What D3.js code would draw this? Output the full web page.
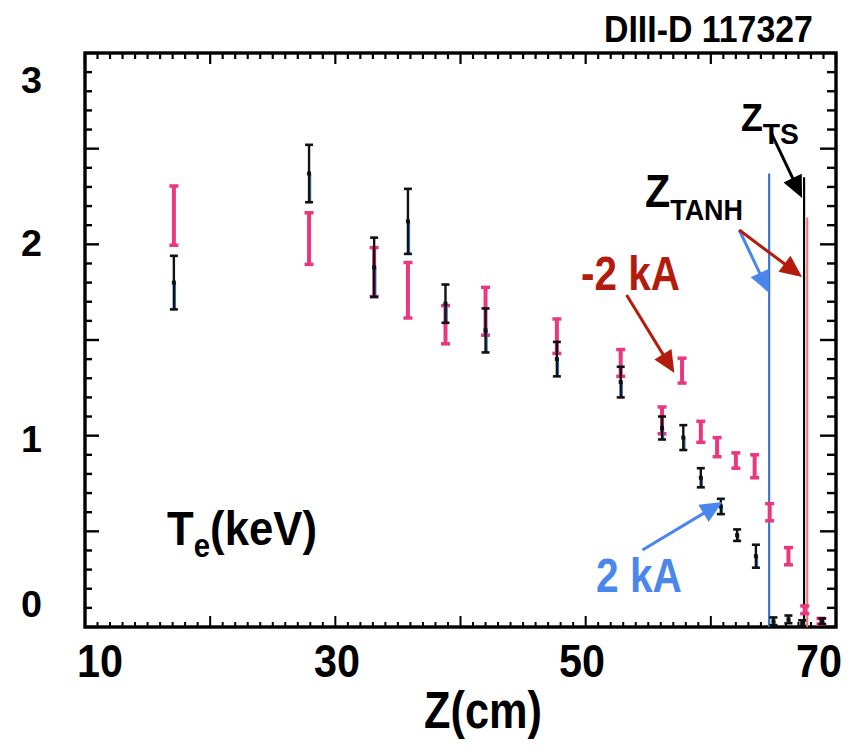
<!DOCTYPE html>
<html>
<head>
<meta charset="utf-8">
<script src="https://cdn.jsdelivr.net/npm/d3@7/dist/d3.min.js"></script>
<style>
  html, body { margin: 0; padding: 0; background: #fff; }
  svg { display: block; }
  text { font-family: "Liberation Sans", Arial, sans-serif; font-weight: bold; }
</style>
</head>
<body>
<svg id="chart" width="861" height="751"></svg>
<script>
// Thomson scattering Te profiles, DIII-D shot 117327
// +2 kA coil current (black points)
const posZ   = [17.1, 27.9, 33.1, 35.8, 38.8, 42.0, 47.7, 52.8, 56.1, 57.8, 59.2, 60.8, 62.1, 63.6, 65.0, 66.2, 67.3, 68.9];
const posTe  = [1.80, 2.37, 1.88, 2.12, 1.69, 1.55, 1.40, 1.28, 1.04, 0.99, 0.78, 0.63, 0.48, 0.37, 0.03, 0.04, 0.02, 0.03];
const posErr = [0.14, 0.15, 0.155, 0.17, 0.10, 0.115, 0.09, 0.08, 0.06, 0.065, 0.05, 0.04, 0.03, 0.06, 0.02, 0.02, 0.015, 0.015];

// -2 kA coil current (pink points)
const negZ   = [17.1, 27.9, 33.1, 35.8, 38.8, 42.0, 47.7, 52.8, 56.1, 57.7, 59.2, 60.5, 62.0, 63.5, 64.7, 66.2, 67.5, 68.8];
const negTe  = [2.15, 2.03, 1.855, 1.76, 1.58, 1.65, 1.52, 1.38, 1.08, 1.34, 1.02, 0.94, 0.87, 0.84, 0.60, 0.37, 0.09, 0.03];
const negErr = [0.155, 0.135, 0.128, 0.145, 0.10, 0.125, 0.09, 0.07, 0.07, 0.065, 0.055, 0.05, 0.04, 0.06, 0.045, 0.045, 0.02, 0.015];

// separatrix / pedestal positions (cm) and the Te level where each marker line ends
const zTanh2kA = 64.66, zTanh2kATop = 2.37;
const zTs = 67.45, zTsTop = 2.35;
const zTanhNeg = 67.7, zTanhNegTop = 2.14;

const xTickLabels = [10, 30, 50, 70];
const yTickLabels = [0, 1, 2, 3];

const plotLeft = 85, plotRight = 836, plotTop = 53, plotBottom = 627;

const x = d3.scaleLinear().domain([10, 70]).range([plotLeft, plotRight]);
const y = d3.scaleLinear().domain([0, 3]).range([plotBottom, plotTop]);

const svg = d3.select("#chart");

const pink = "#e9387f";
const darkRed = "#b31c0c";
const lightBlue = "#4a86ec";

// ---- frame with inward ticks on all four sides ----
const frame = svg.append("g");
const xMinor = d3.range(10, 71, 1);
const yMinor = d3.range(0, 3.001, 0.1).map(v => +v.toFixed(2));
const isMajorX = v => v % 10 === 0;
const isMajorY = v => Math.abs(v * 2 - Math.round(v * 2)) < 1e-6;

frame.selectAll(".tb").data(xMinor).join("line")
  .attr("x1", d => x(d)).attr("x2", d => x(d))
  .attr("y1", plotBottom).attr("y2", d => plotBottom - (isMajorX(d) ? 11 : 5))
  .attr("stroke", "#000").attr("stroke-width", 2);
frame.selectAll(".tt").data(xMinor).join("line")
  .attr("x1", d => x(d)).attr("x2", d => x(d))
  .attr("y1", plotTop).attr("y2", d => plotTop + (isMajorX(d) ? 11 : 6))
  .attr("stroke", "#000").attr("stroke-width", 2.2);
frame.selectAll(".tl").data(yMinor).join("line")
  .attr("x1", plotLeft).attr("x2", d => plotLeft + (isMajorY(d) ? 14 : 7))
  .attr("y1", d => y(d)).attr("y2", d => y(d))
  .attr("stroke", "#000").attr("stroke-width", 2.4);
frame.selectAll(".tr").data(yMinor).join("line")
  .attr("x1", plotRight).attr("x2", d => plotRight - (isMajorY(d) ? 16 : 9))
  .attr("y1", d => y(d)).attr("y2", d => y(d))
  .attr("stroke", "#000").attr("stroke-width", 2.4);

frame.append("rect")
  .attr("x", plotLeft).attr("y", plotTop)
  .attr("width", plotRight - plotLeft).attr("height", plotBottom - plotTop)
  .attr("fill", "none").attr("stroke", "#000").attr("stroke-width", 3.4);

// ---- marker lines ----
const markers = svg.append("g");
markers.append("line")
  .attr("x1", x(zTanh2kA)).attr("x2", x(zTanh2kA))
  .attr("y1", y(zTanh2kATop)).attr("y2", y(0))
  .attr("stroke", "#3f72c8").attr("stroke-width", 2.2);
markers.append("line")
  .attr("x1", x(zTanhNeg)).attr("x2", x(zTanhNeg))
  .attr("y1", y(zTanhNegTop)).attr("y2", y(0))
  .attr("stroke", "#ff6f6f").attr("stroke-width", 2);
markers.append("line")
  .attr("x1", x(zTs)).attr("x2", x(zTs))
  .attr("y1", y(zTsTop)).attr("y2", y(0))
  .attr("stroke", "#000").attr("stroke-width", 2.2);

// ---- error bars ----
function errorBars(g, zs, tes, errs, color, width, capW, capH, accent) {
  const data = zs.map((z, i) => ({ z, te: tes[i], e: errs[i] }));
  const grp = g.selectAll("g.eb").data(data).join("g").attr("class", "eb");
  if (accent) {
    grp.append("line")
      .attr("x1", d => x(d.z) + 1.4).attr("x2", d => x(d.z) + 1.4)
      .attr("y1", d => y(d.te - d.e)).attr("y2", d => y(d.te))
      .attr("stroke", accent).attr("stroke-width", 1.6);
  }
  grp.append("line")
    .attr("x1", d => x(d.z)).attr("x2", d => x(d.z))
    .attr("y1", d => y(d.te + d.e)).attr("y2", d => y(d.te - d.e))
    .attr("stroke", color).attr("stroke-width", width);
  [1, -1].forEach(s => {
    grp.append("line")
      .attr("x1", d => x(d.z) - capW / 2).attr("x2", d => x(d.z) + capW / 2)
      .attr("y1", d => y(d.te + s * d.e)).attr("y2", d => y(d.te + s * d.e))
      .attr("stroke", color).attr("stroke-width", capH);
  });
  if (accent) {
    grp.append("rect")
      .attr("x", d => x(d.z) - 2).attr("y", d => y(d.te) - 2)
      .attr("width", 4).attr("height", 4).attr("fill", color);
  }
}
errorBars(svg.append("g"), negZ, negTe, negErr, pink, 4, 9, 3.5, null);
errorBars(svg.append("g"), posZ, posTe, posErr, "#111", 2.4, 8, 2.6, "#2f74c6");

// ---- arrows (data coordinates) ----
const arrows = [
  { from: [64.82, 2.582], to: [67.29, 2.242], color: "#000" },
  { from: [62.27, 2.075], to: [64.66, 1.746], color: lightBlue },
  { from: [62.27, 2.075], to: [67.29, 1.829], color: darkRed },
  { from: [53.27, 1.735], to: [57.09, 1.328], color: darkRed },
  { from: [54.54, 0.402], to: [60.92, 0.653], color: lightBlue }
];
const ag = svg.append("g");
arrows.forEach(a => {
  const x0 = x(a.from[0]), y0 = y(a.from[1]);
  const x1 = x(a.to[0]), y1 = y(a.to[1]);
  const dx = x1 - x0, dy = y1 - y0, L = Math.hypot(dx, dy);
  const ux = dx / L, uy = dy / L, px = -uy, py = ux;
  const hl = 22, hw = 10;
  const bx = x1 - ux * hl, by = y1 - uy * hl;
  ag.append("line")
    .attr("x1", x0).attr("y1", y0).attr("x2", bx + ux * 2).attr("y2", by + uy * 2)
    .attr("stroke", a.color).attr("stroke-width", 3);
  ag.append("path")
    .attr("d", `M${x1},${y1}L${bx + px * hw},${by + py * hw}L${bx - px * hw},${by - py * hw}Z`)
    .attr("fill", a.color);
});

// ---- text helper: condensed bold text fitted to a target width ----
function label(parts, x0, base, width, color, anchor) {
  const g = svg.append("g");
  const t = g.append("text").attr("fill", color || "#000");
  parts.forEach(p => {
    t.append("tspan")
      .attr("font-size", p.size)
      .attr("dy", p.dy || 0)
      .text(p.text);
  });
  const w = t.node().getComputedTextLength();
  const sx = width ? width / w : 0.86;
  let ox = x0;
  if (anchor === "middle") ox = x0 - (w * sx) / 2;
  g.attr("transform", `translate(${ox},${base}) scale(${sx},1)`);
  return g;
}

// title
label([{ text: "DIII-D 117327", size: 36 }], 604, 42, 209);

// axis tick labels
const yLabelBase = { 3: 93, 2: 256, 1: 452, 0: 617 };
yTickLabels.forEach(v => label([{ text: String(v), size: 37 }], 21, yLabelBase[v], 21));
const xLabelCenter = { 10: 100, 30: 337, 50: 582, 70: 819 };
xTickLabels.forEach(v => label([{ text: String(v), size: 46 }], xLabelCenter[v], 677, 46, "#000", "middle"));

// axis titles
label([{ text: "Z(cm)", size: 52 }], 424, 728, 118);
label([{ text: "T", size: 49 }, { text: "e", size: 33, dy: 12 }, { text: "(keV)", size: 49, dy: -12 }], 167, 545, 150);

// annotations
label([{ text: "Z", size: 46 }, { text: "TANH", size: 30, dy: 13 }], 645, 207, 98);
label([{ text: "Z", size: 38 }, { text: "TS", size: 30, dy: 13 }], 741, 131, 58);
label([{ text: "-2 kA", size: 49 }], 581, 290, 99, darkRed);
label([{ text: "2 kA", size: 49 }], 596, 592, 86, lightBlue);
</script>
</body>
</html>
